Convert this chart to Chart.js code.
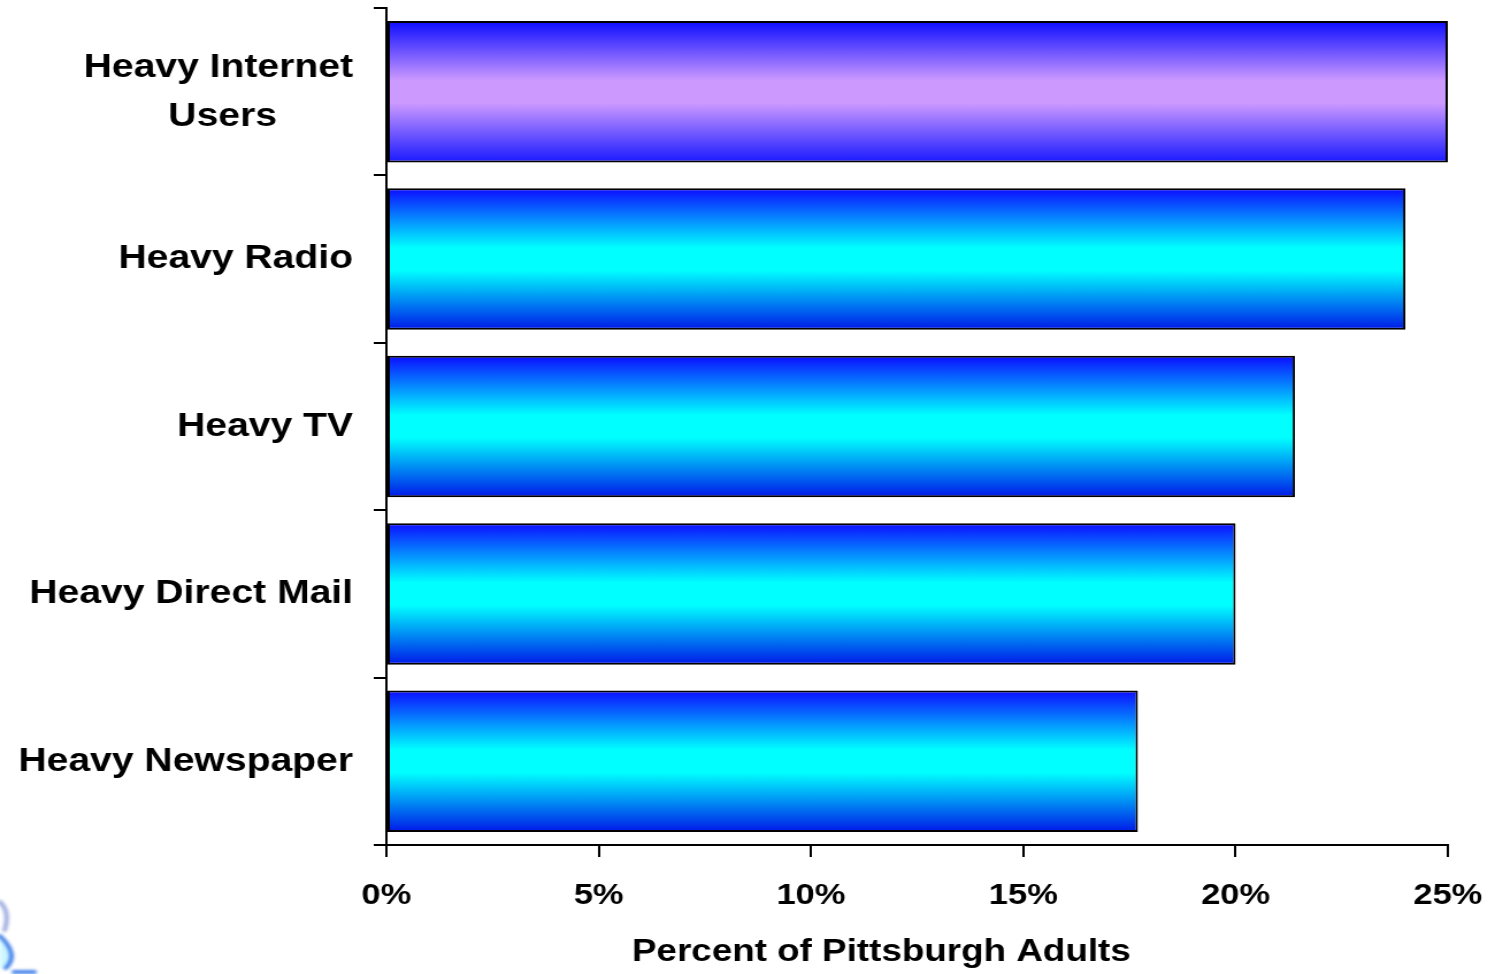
<!DOCTYPE html>
<html>
<head>
<meta charset="utf-8">
<script src="https://cdn.jsdelivr.net/npm/chart.js@4/dist/chart.umd.min.js"></script>
<style>
  html, body { margin: 0; padding: 0; background: #fff; overflow: hidden; }
  #wrap { width: 1298px; height: 974px; transform: scaleX(1.15); transform-origin: 0 0; }
</style>
</head>
<body>
<div id="wrap"><canvas id="myChart"></canvas></div>
<script>
const ctx = document.getElementById('myChart');

// media groups, top to bottom
const labels = [
  ['Heavy Internet', 'Users       '],
  'Heavy Radio',
  'Heavy TV',
  'Heavy Direct Mail',
  'Heavy Newspaper'
];
const shares = [25.0, 24.0, 21.4, 20.0, 17.7];
const xTicks = [0, 5, 10, 15, 20, 25];
// trailing blanks nudge the centred title a little to the left
const axisTitle = 'Percent of Pittsburgh Adults       ';

const BAR_FRACTION = 0.845;

// vertical blue -> light -> blue shading for each bar
function barFill(c) {
  const chart = c.chart;
  const yScale = chart.scales.y;
  const area = chart.chartArea;
  const mid = c.dataIndex === 0 ? '#cc99ff' : '#00ffff';
  if (!yScale || !area) return mid;
  const center = yScale.getPixelForValue(c.dataIndex);
  const half = (area.bottom - area.top) / labels.length * BAR_FRACTION / 2;
  const g = chart.ctx.createLinearGradient(0, center - half, 0, center + half);
  g.addColorStop(0, '#0c0cff');
  g.addColorStop(0.42, mid);
  g.addColorStop(0.58, mid);
  g.addColorStop(1, c.dataIndex === 0 ? '#1a1aff' : '#0018e8');
  return g;
}

// bit of the swirl logo peeking in at the bottom-left corner
const cornerLogo = {
  id: 'cornerLogo',
  afterDraw(chart) {
    const c = chart.ctx;
    c.save();
    c.filter = 'blur(1.5px)';
    c.lineCap = 'round';
    c.strokeStyle = 'rgba(120,140,210,0.7)';
    c.lineWidth = 4;
    c.beginPath();
    c.moveTo(0, 902);
    c.quadraticCurveTo(9, 912, 4, 930);
    c.stroke();
    c.fillStyle = 'rgba(170,240,255,0.6)';
    c.beginPath();
    c.moveTo(0, 938);
    c.quadraticCurveTo(16, 955, 4, 968);
    c.lineTo(0, 968);
    c.fill();
    c.strokeStyle = 'rgba(40,110,230,0.85)';
    c.lineWidth = 4;
    c.beginPath();
    c.moveTo(0, 936);
    c.quadraticCurveTo(17, 955, 5, 968);
    c.stroke();
    c.beginPath();
    c.moveTo(12, 972);
    c.lineTo(30, 972);
    c.stroke();
    c.restore();
  }
};

const data = {
  labels: labels,
  datasets: [{
    data: shares,
    backgroundColor: barFill,
    borderColor: '#000',
    borderWidth: 2,
    borderSkipped: false,
    categoryPercentage: 1,
    barPercentage: BAR_FRACTION
  }]
};

const config = {
  type: 'bar',
  data: data,
  plugins: [cornerLogo],
  options: {
    indexAxis: 'y',
    responsive: true,
    maintainAspectRatio: false,
    animation: false,
    layout: { padding: { top: 8, right: 39, left: 0, bottom: 0 } },
    plugins: { legend: { display: false }, tooltip: { enabled: false } },
    scales: {
      x: {
        min: 0,
        max: 25,
        afterBuildTicks: (s) => { s.ticks = xTicks.map(v => ({ value: v })); },
        afterFit: (s) => { s.height = 129; s.paddingLeft = 0; s.paddingRight = 0; },
        border: { color: '#000', width: 2 },
        grid: { drawOnChartArea: false, color: '#000', lineWidth: 2, tickLength: 12 },
        ticks: {
          color: '#000',
          padding: 21,
          maxRotation: 0,
          font: { family: 'Liberation Sans, Arial, sans-serif', weight: 'bold', size: 30 },
          callback: (v) => v + '%'
        },
        title: {
          display: true,
          text: axisTitle,
          color: '#000',
          padding: { top: 0, bottom: 3 },
          font: { family: 'Liberation Sans, Arial, sans-serif', weight: 'bold', size: 32 }
        }
      },
      y: {
        afterFit: (s) => { s.width = 336; s.paddingTop = 0; s.paddingBottom = 0; },
        border: { color: '#000', width: 2 },
        grid: { drawOnChartArea: false, offset: true, color: '#000', lineWidth: 2, tickLength: 11 },
        ticks: {
          color: '#000',
          padding: 18,
          font: { family: 'Liberation Sans, Arial, sans-serif', weight: 'bold', size: 34, lineHeight: 1.44 }
        }
      }
    }
  }
};

const barChart = new Chart(ctx, config);
</script>
</body>
</html>
